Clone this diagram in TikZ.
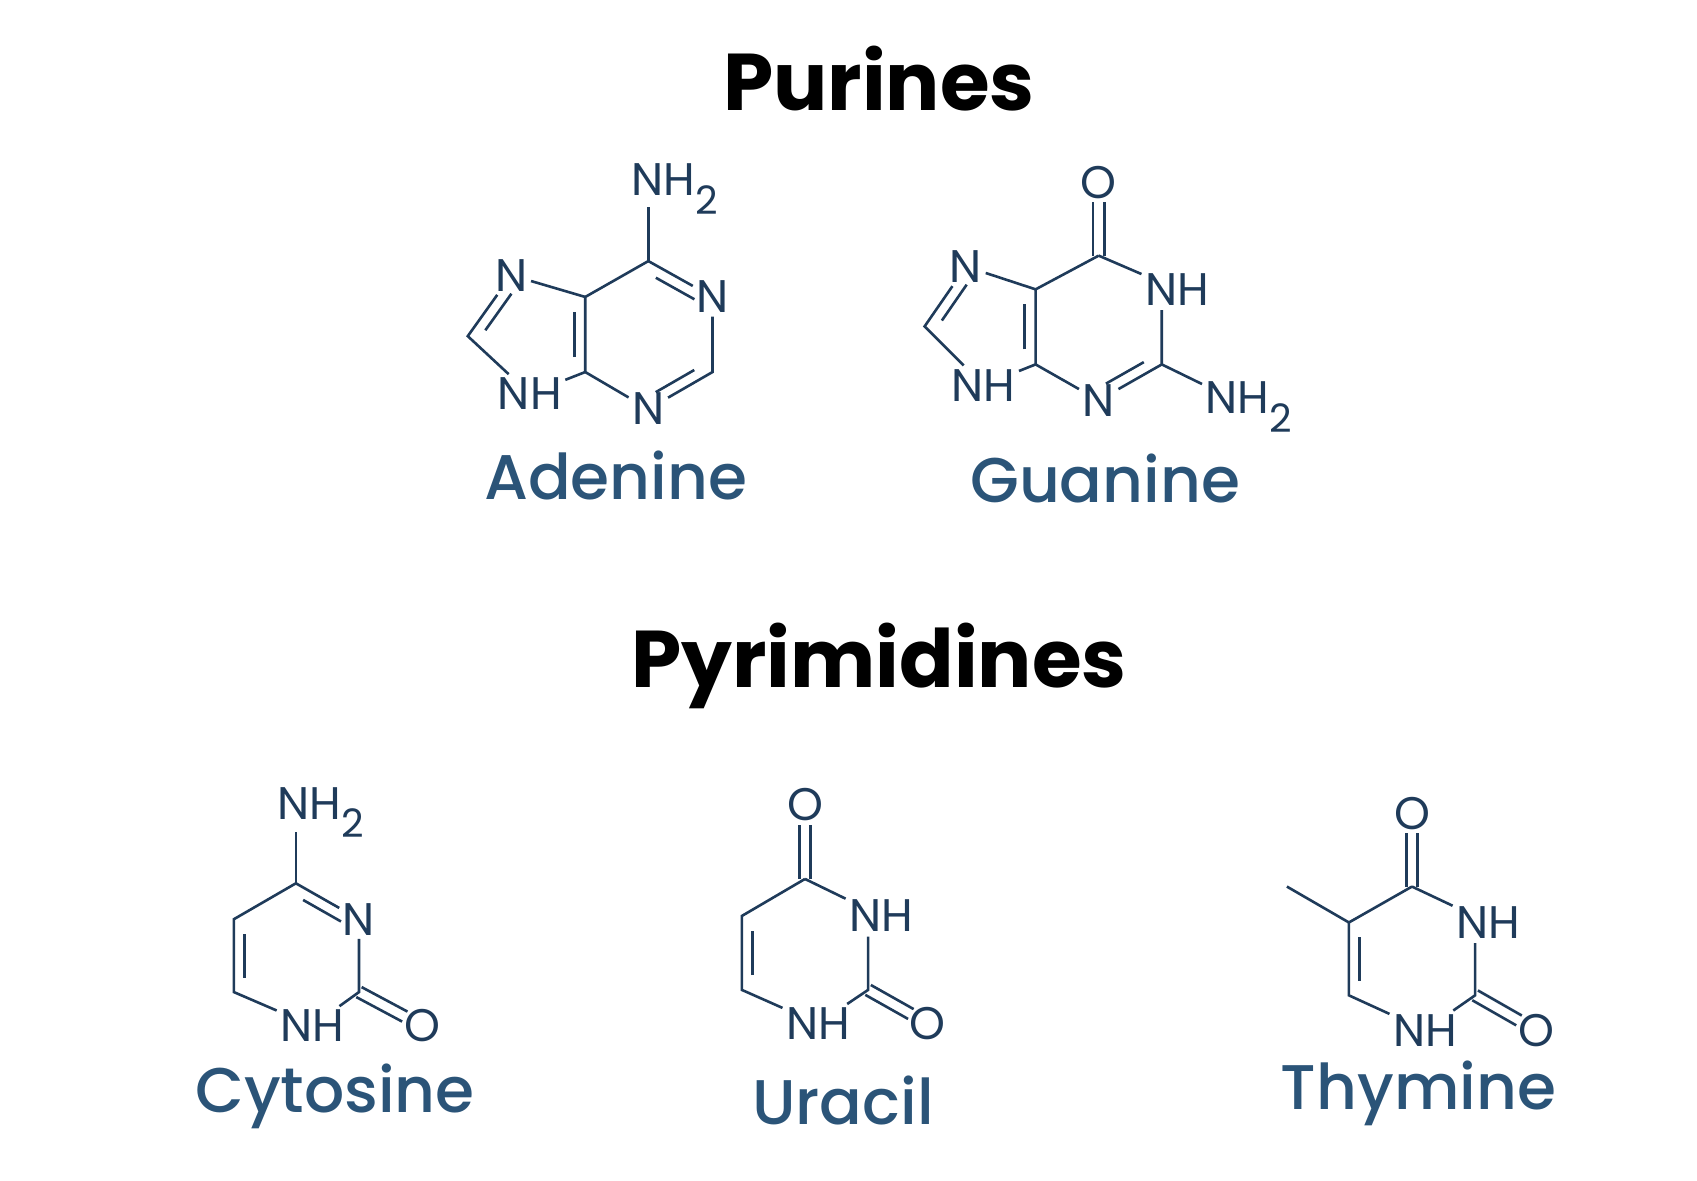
\documentclass[tikz,border=0pt]{standalone}
\usepackage{fontspec}
\setmainfont{Poppins}
\newfontfamily\titlefont{Poppins Bold}
\newfontfamily\namefont{Poppins Medium}
\usetikzlibrary{calc}
\definecolor{mol}{HTML}{1F3B5A}
\definecolor{nm}{HTML}{2B5478}
\tikzset{
  bond/.style={draw=mol,line width=1.2pt},
  atom/.style={text=mol,font=\fontsize{21}{21}\selectfont,inner sep=1.5pt},
  molname/.style={text=nm,font=\namefont\fontsize{29}{29}\selectfont},
  ttl/.style={text=black,font=\titlefont\fontsize{37}{37}\selectfont}
}
\newcommand\dbl[3]{\draw[bond] ($ ($(#1)!0.2!(#2)$)!5pt!#3:(#2) $) -- ($ ($(#1)!0.8!(#2)$)!5pt!-#3:(#1) $);}
\newcommand\dblx[2]{%
  \draw[bond,shorten >=9pt] ($(#1)!2.6pt!90:(#2.center)$) -- ($(#2.center)!2.6pt!-90:(#1)$);
  \draw[bond,shorten >=9pt] ($(#1)!2.6pt!-90:(#2.center)$) -- ($(#2.center)!2.6pt!90:(#1)$);}
\newcommand\NHtwo{NH\raisebox{-0.75ex}{\fontsize{18}{18}\selectfont 2}}
\begin{document}
\begin{tikzpicture}[x=0.5pt,y=-0.5pt]
\useasboundingbox (0,0) rectangle (1560,1085);
\node[ttl] (t1) at (808,72) {Purines};
\node[ttl] (t2) at (808,612) {Pyrimidines};
% Adenine
\coordinate (a6) at (596,240); \node[atom] (a1) at (655,273) {N};
\coordinate (a2) at (655,342); \node[atom] (a3) at (596,376) {N};
\coordinate (a4) at (538,342); \coordinate (a5) at (538,273);
\node[atom] (a7) at (470,253) {N}; \coordinate (a8) at (430,309);
\node[atom] (a9) at (487,362) {NH}; \node[atom] (an) at (620,174) {\NHtwo};
\draw[bond] (a6)--(a1)--(a2)--(a3)--(a4)--(a5)--(a6);
\draw[bond] (a5)--(a7)--(a8)--(a9)--(a4);
\coordinate (ae) at (596,190);
\draw[bond] (a6)--(ae);
\dbl{a6}{a1}{-90} \dbl{a2}{a3}{-90} \dbl{a4}{a5}{90} \dbl{a7}{a8}{90}
\node[molname] (na) at (566,437) {Adenine};
% Guanine
\coordinate (g6) at (1010,235); \node[atom] (go) at (1010,168) {O};
\node[atom] (g1) at (1082,266) {NH}; \coordinate (g2) at (1068,335);
\coordinate (g1b) at (1068,285);
\node[atom] (g3) at (1010,368) {N}; \coordinate (g4) at (952,335);
\coordinate (g5) at (952,266); \node[atom] (g7) at (888,245) {N};
\coordinate (g8) at (850,300); \node[atom] (g9) at (904,354) {NH};
\node[atom] (gn) at (1148,374) {\NHtwo};
\draw[bond] (g6)--(g1);
\draw[bond] (g1b)--(g2)--(g3)--(g4)--(g5)--(g6);
\draw[bond] (g5)--(g7)--(g8)--(g9)--(g4);
\draw[bond] (g2)--(gn);
\dblx{g6}{go}
\dbl{g2}{g3}{-90} \dbl{g4}{g5}{90} \dbl{g7}{g8}{90}
\node[molname] (ng) at (1016,440) {Guanine};
% Cytosine
\coordinate (c4) at (272,812); \node[atom] (c3) at (330,845) {N};
\coordinate (c2) at (330,912); \node[atom] (c1) at (287,943) {NH};
\coordinate (c6) at (215,912); \coordinate (c5) at (215,845);
\node[atom] (cn) at (295,747) {\NHtwo}; \node[atom] (co) at (388,943) {O};
\coordinate (ce) at (272,765);
\draw[bond] (c4)--(c3)--(c2)--(c1)--(c6)--(c5)--(c4);
\draw[bond] (c4)--(ce);
\dblx{c2}{co}
\dbl{c4}{c3}{-90} \dbl{c6}{c5}{-90}
\node[molname] (nc) at (308,1008) {Cytosine};
% Uracil
\coordinate (u4) at (740,808); \node[atom] (uo) at (740,740) {O};
\node[atom] (u3) at (810,842) {NH}; \coordinate (u2) at (798,910);
\coordinate (u3b) at (798,861);
\node[atom] (u1) at (752,941) {NH}; \coordinate (u6) at (682,910);
\coordinate (u5) at (682,842); \node[atom] (uo2) at (853,941) {O};
\draw[bond] (u4)--(u3);
\draw[bond] (u3b)--(u2)--(u1)--(u6)--(u5)--(u4);
\dblx{u4}{uo} \dblx{u2}{uo2}
\dbl{u6}{u5}{-90}
\node[molname] (nu) at (775,1012) {Uracil};
% Thymine
\coordinate (h4) at (1298,815); \node[atom] (ho) at (1298,748) {O};
\node[atom] (h3) at (1368,848) {NH}; \coordinate (h2) at (1356,915);
\coordinate (h3b) at (1356,867);
\node[atom] (h1) at (1310,947) {NH}; \coordinate (h6) at (1240,915);
\coordinate (h5) at (1240,848); \coordinate (hm) at (1183,815);
\node[atom] (ho2) at (1412,947) {O};
\draw[bond] (h4)--(h3);
\draw[bond] (h3b)--(h2)--(h1)--(h6)--(h5)--(h4);
\draw[bond] (h5)--(hm);
\dblx{h4}{ho} \dblx{h2}{ho2}
\dbl{h6}{h5}{-90}
\node[molname] (nh) at (1304,1005) {Thymine};
\end{tikzpicture}
\end{document}
